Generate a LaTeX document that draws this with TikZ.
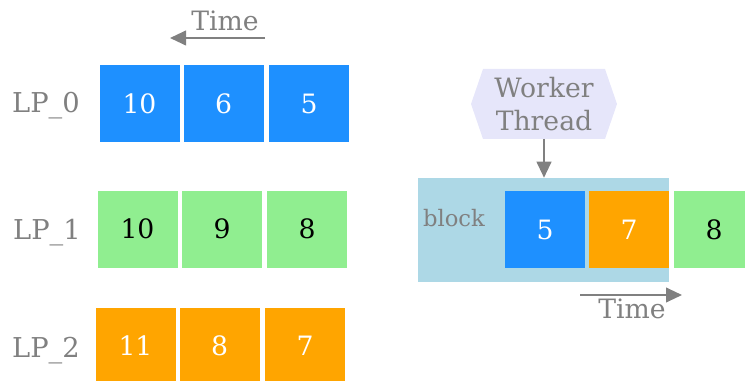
\documentclass[tikz,border=0pt]{standalone}
\usepackage{fontspec}
\setmainfont{DejaVu Serif}
\usetikzlibrary{arrows.meta}
\definecolor{dodger}{HTML}{1E90FF}
\definecolor{lgreen}{HTML}{90EE90}
\definecolor{orng}{HTML}{FFA500}
\definecolor{lblue}{HTML}{ADD8E6}
\definecolor{lavend}{HTML}{E6E6FA}
\definecolor{txtgray}{HTML}{808080}
\tikzset{
  cell/.style={inner sep=0pt, minimum width=60pt, minimum height=57.75pt,
    font=\fontsize{20}{24}\selectfont},
  bluecell/.style={cell, fill=dodger, text=white},
  greencell/.style={cell, fill=lgreen, text=black},
  orangecell/.style={cell, fill=orng, text=white},
  lplabel/.style={anchor=base, text=txtgray, font=\fontsize{20.5}{24}\selectfont},
  timelabel/.style={anchor=base, text=txtgray, font=\fontsize{20}{24}\selectfont},
  flow/.style={draw=txtgray, line width=1.5pt, -{Triangle[length=12pt,width=11pt]}},
}
\begin{document}
\begin{tikzpicture}[x=0.75pt,y=-0.75pt]
\useasboundingbox (0,0) rectangle (745,381);

% time direction for the queues
\node[timelabel] (t1) at (225,31) {Time};
\coordinate (t1s) at (265,38);
\coordinate (t1e) at (170,38);
\draw[flow] (t1s) -- (t1e);

% LP_0 queue
\node[lplabel] (lp0) at (46,113) {LP\_0};
\node[bluecell] (a1) at (139.5,104) {10};
\node[bluecell] (a2) at (223.5,104) {6};
\node[bluecell] (a3) at (309,104) {5};

% LP_1 queue
\node[lplabel] (lp1) at (47,239) {LP\_1};
\node[greencell] (b1) at (137.5,229) {10};
\node[greencell] (b2) at (222,229) {9};
\node[greencell] (b3) at (307,229) {8};

% LP_2 queue
\node[lplabel] (lp2) at (46,357) {LP\_2};
\node[orangecell] (c1) at (135.5,346) {11};
\node[orangecell] (c2) at (219.5,346) {8};
\node[orangecell] (c3) at (305,346) {7};

% worker thread
\fill[lavend] (471,104) -- (483,69) -- (605,69) -- (617,104) -- (605,139) -- (483,139) -- cycle;
\node[text=txtgray, align=center, inner sep=0pt, font=\fontsize{20}{25}\selectfont] (wt) at (544,104) {Worker\\Thread};
\coordinate (wtb) at (544,139);

% block being processed
\node[fill=lblue, inner sep=0pt, minimum width=188.25pt, minimum height=78pt] (blk) at (543.5,230) {};
\node[anchor=base, text=txtgray, font=\fontsize{17}{20}\selectfont] (blklbl) at (454,226) {block};
\node[bluecell] (d1) at (545,229.5) {5};
\node[orangecell] (d2) at (629,229.5) {7};
\node[greencell] (d3) at (714,229.5) {8};

\draw[flow] (wtb) -- (blk.north -| wtb);

% time direction for the block
\coordinate (t2s) at (580,295);
\coordinate (t2e) at (682,295);
\draw[flow] (t2s) -- (t2e);
\node[timelabel] (t2) at (632,318) {Time};
\end{tikzpicture}
\end{document}
